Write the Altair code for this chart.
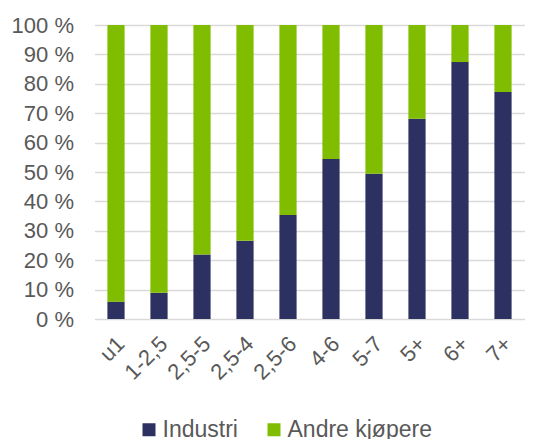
import altair as alt
import pandas as pd

categories = ["u1", "1-2,5", "2,5-5", "2,5-4", "2,5-6", "4-6", "5-7", "5+", "6+", "7+"]
industri = [5.9, 8.9, 21.9, 26.6, 35.4, 54.4, 49.4, 68.1, 87.4, 77.2]
andre = [94.1, 91.1, 78.1, 73.4, 64.6, 45.6, 50.6, 31.9, 12.6, 22.8]
series = ["Industri", "Andre kjøpere"]
colors = ["#2d3161", "#80bc00"]
y_ticks = [0, 10, 20, 30, 40, 50, 60, 70, 80, 90, 100]

rows = []
for c, a, b in zip(categories, industri, andre):
    rows.append({"kat": c, "serie": series[0], "verdi": a, "ord": 0})
    rows.append({"kat": c, "serie": series[1], "verdi": b, "ord": 1})
df = pd.DataFrame(rows)

FONT = "Liberation Sans"
GRAY = "#595959"

chart = alt.Chart(df).mark_bar().encode(
    x=alt.X("kat:N", sort=categories,
            scale=alt.Scale(paddingInner=0.6, paddingOuter=0.3),
            axis=alt.Axis(title=None, labelAngle=315, labelAlign="right",
                          labelBaseline="middle", labelPadding=21,
                          labelOffset=5,
                          labelFontSize=22, labelColor=GRAY, labelFont=FONT,
                          ticks=False, tickSize=0, domain=False, grid=False)),
    y=alt.Y("verdi:Q", stack="zero",
            scale=alt.Scale(domain=[0, 100], nice=False),
            axis=alt.Axis(title=None, values=y_ticks,
                          labelExpr="datum.value + ' %'",
                          labelFontSize=22, labelColor=GRAY, labelFont=FONT,
                          labelPadding=21, ticks=False, tickSize=0,
                          domain=False, grid=True, gridColor="#d9d9d9",
                          gridWidth=1.5)),
    color=alt.Color("serie:N",
                    scale=alt.Scale(domain=series, range=colors),
                    legend=alt.Legend(title=None, orient="none",
                                      direction="horizontal",
                                      legendX=43, legendY=393,
                                      symbolType="square", symbolSize=169,
                                      symbolStrokeWidth=0,
                                      labelFontSize=23, labelColor=GRAY,
                                      labelFont=FONT, labelOffset=2,
                                      columnPadding=24, padding=0,
                                      labelLimit=300)),
    order=alt.Order("ord:Q", sort="ascending"),
).properties(
    width=430,
    height=294,
    autosize=alt.AutoSizeParams(type="none"),
    padding={"left": 86.5, "top": 17, "right": 11, "bottom": 120},
).configure_view(stroke=None)

chart.save("out.html", embed_options={"renderer": "svg", "actions": False})
